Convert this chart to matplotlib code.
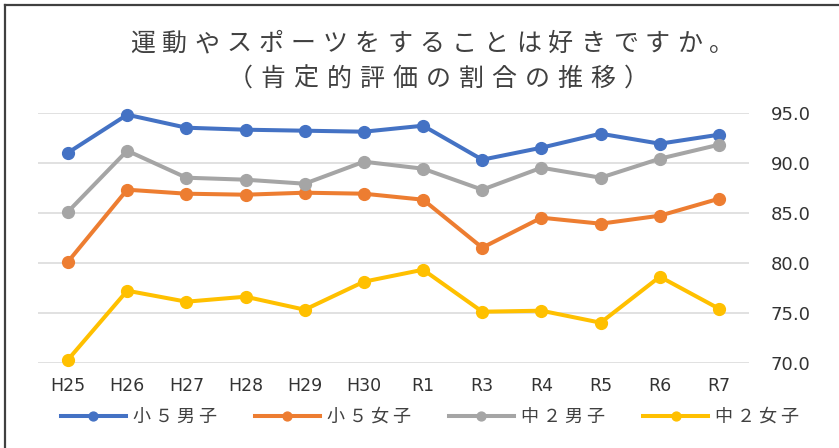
import matplotlib
matplotlib.use("Agg")
import matplotlib.pyplot as plt
from matplotlib.lines import Line2D

plt.rcParams['font.family'] = ['Noto Sans CJK JP', 'DejaVu Sans']

years = ["H25", "H26", "H27", "H28", "H29", "H30", "R1", "R3", "R4", "R5", "R6", "R7"]

sho5_boys = [91.0, 94.8, 93.5, 93.3, 93.2, 93.1, 93.7, 90.3, 91.5, 92.9, 91.9, 92.8]
sho5_girls = [80.1, 87.3, 86.9, 86.8, 87.0, 86.9, 86.3, 81.5, 84.5, 83.9, 84.7, 86.4]
chu2_boys = [85.1, 91.2, 88.5, 88.3, 87.9, 90.1, 89.4, 87.3, 89.5, 88.5, 90.4, 91.8]
chu2_girls = [70.3, 77.2, 76.1, 76.6, 75.3, 78.1, 79.3, 75.1, 75.2, 74.0, 78.6, 75.4]

labels = ["小 ５ 男 子", "小 ５ 女 子", "中 ２ 男 子", "中 ２ 女 子"]
colors = ["#4472C4", "#ED7D31", "#A5A5A5", "#FFC000"]

title1 = "運動やスポーツをすることは好きですか。"
title2 = "（肯定的評価の割合の推移）"

W, H = 839, 448
fig = plt.figure(figsize=(W / 100, H / 100), dpi=100)
ax = fig.add_axes([38.4 / W, (H - 362.7) / H, (748.6 - 38.4) / W, (362.7 - 112.7) / H])

x = range(len(years))
for vals, lab, c in zip([sho5_boys, sho5_girls, chu2_boys, chu2_girls], labels, colors):
    ax.plot(x, vals, color=c, lw=2.9, marker="o", ms=8.5, label=lab,
            clip_on=False, zorder=3)

ax.set_xlim(-0.5, len(years) - 0.5)
ax.set_ylim(70, 95)
ax.set_yticks([70, 75, 80, 85, 90, 95])
ax.set_yticklabels([f"{v:.1f}" for v in [70, 75, 80, 85, 90, 95]])
ax.yaxis.tick_right()
ax.set_xticks(list(x))
ax.set_xticklabels(years)
ax.grid(axis="y", color="#D9D9D9", lw=1.1)
ax.set_axisbelow(True)
for s in ax.spines.values():
    s.set_visible(False)
ax.tick_params(axis="y", length=0, pad=16, labelsize=13, labelcolor="#333333")
ax.tick_params(axis="x", length=0, pad=10, labelsize=12.5, labelcolor="#333333")
for t in ax.get_xticklabels() + ax.get_yticklabels():
    t.set_fontfamily("DejaVu Sans")


def spaced_title(text, cx, cy, pitch, size):
    # lay out characters one by one with wide letter spacing
    n = len(text)
    x0 = cx - pitch * (n - 1) / 2
    for i, ch in enumerate(text):
        fig.text((x0 + i * pitch) / W, (H - cy) / H, ch, ha="center", va="center",
                 fontsize=size, color="#404040")


spaced_title(title1, 432, 44, 32.2, 18)
spaced_title(title2, 438, 79, 33, 18)

leg = ax.legend(loc="center", bbox_to_anchor=(430 / W, (H - 417) / H),
                bbox_transform=fig.transFigure, ncol=4, frameon=False,
                fontsize=13, handlelength=3.6, handletextpad=0.4,
                columnspacing=2.1, markerscale=0.75, labelcolor="#404040")

# frame edges along the top and left
fig.add_artist(Line2D([5 / W, 1], [(H - 5) / H] * 2, color="#404040", lw=1.6))
fig.add_artist(Line2D([5 / W] * 2, [0, (H - 5) / H], color="#404040", lw=1.6))

fig.savefig("out.png", dpi=100)
